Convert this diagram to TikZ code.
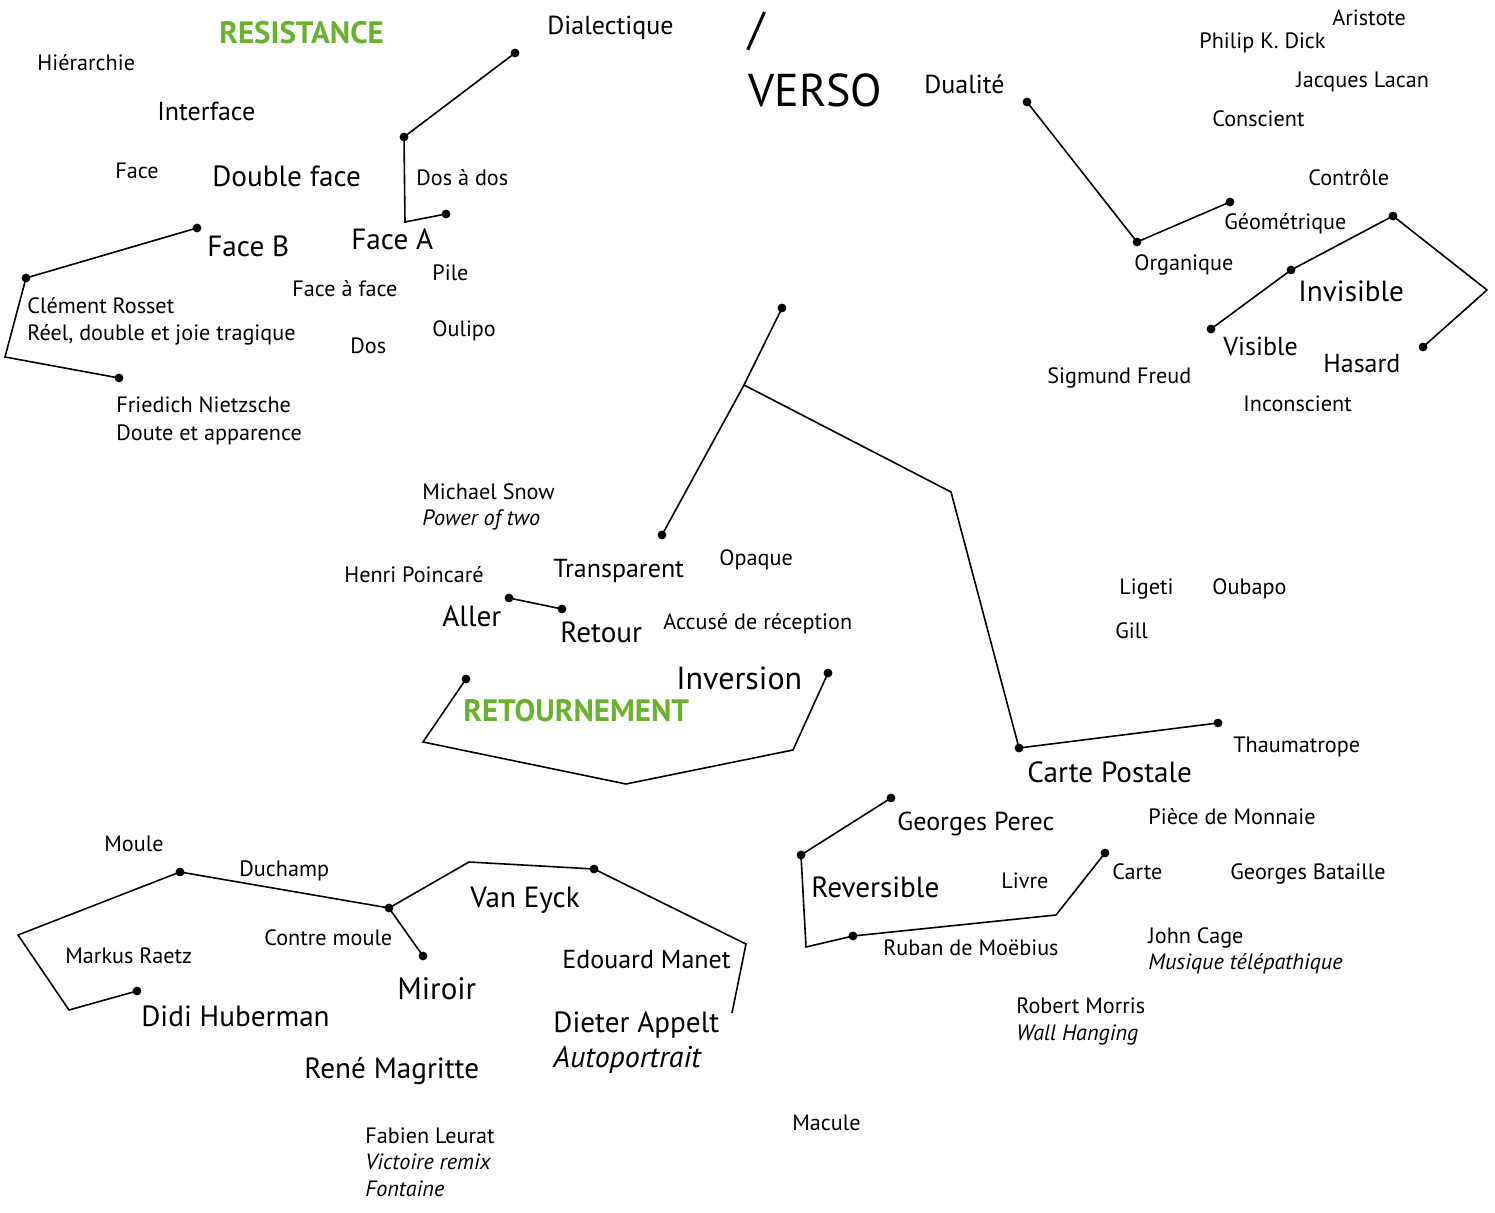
\documentclass[tikz,border=0pt]{standalone}
\usepackage{fontspec}
\setmainfont{PT Sans}
\definecolor{resgreen}{RGB}{106,178,46}

\tikzset{
  txt/.style={anchor=base west, inner sep=0pt, font=\fontsize{11.1}{13}\selectfont},
  work/.style={txt, font=\itshape\fontsize{11.1}{13}\selectfont},
  mid/.style={txt, font=\fontsize{13}{15}\selectfont},
  big/.style={txt, font=\fontsize{14.6}{17}\selectfont},
  bigwork/.style={txt, font=\itshape\fontsize{15}{18}\selectfont},
  huge/.style={txt, font=\fontsize{23}{27}\selectfont},
  theme/.style={txt, font=\bfseries\fontsize{15.5}{18}\selectfont, text=resgreen},
  link/.style={line width=0.8pt, line join=miter}
}

\begin{document}
\begin{tikzpicture}[x=0.5pt,y=-0.5pt]
\def\spotr{2.2pt}
\useasboundingbox (0,0) rectangle (1495,1213);

% Resistance
\node[theme] (resistance) at (219,44) {RESISTANCE};
\node[txt] (hierarchie) at (37,71) {Hiérarchie};
\node[mid] (interface) at (157,121) {Interface};
\node[txt] (face) at (115,179) {Face};
\node[big] (doubleface) at (212,187) {Double face};
\node[mid] (dialectique) at (547,35) {Dialectique};
\node[txt] (dosados) at (416,186) {Dos à dos};
\node[big] (faceb) at (207,257) {Face B};
\node[big] (facea) at (351,250) {Face A};
\node[txt] (pile) at (432,281) {Pile};
\node[txt] (faceaface) at (292,297) {Face à face};
\node[txt] (rosset) at (27,314) {Clément Rosset};
\node[txt] (rossetbook) at (27,341) {Réel, double et joie tragique};
\node[txt] (oulipo) at (432,337) {Oulipo};
\node[txt] (dos) at (350,354) {Dos};
\node[txt] (nietzsche) at (116,413) {Friedich Nietzsche};
\node[txt] (nietzschebook) at (116,441) {Doute et apparence};

% Verso
\node[huge] (slash) at (748,45) {/};
\node[huge] (verso) at (748,107) {VERSO};
\node[mid] (dualite) at (924,94) {Dualité};
\node[txt] (aristote) at (1332,26) {Aristote};
\node[txt] (dick) at (1199,49) {Philip K. Dick};
\node[txt] (lacan) at (1296,88) {Jacques Lacan};
\node[txt] (conscient) at (1212,127) {Conscient};
\node[txt] (controle) at (1308,186) {Contrôle};
\node[txt] (geometrique) at (1224,230) {Géométrique};
\node[txt] (organique) at (1134,271) {Organique};
\node[big] (invisible) at (1298,302) {Invisible};
\node[mid] (visible) at (1223,356) {Visible};
\node[mid] (hasard) at (1323,373) {Hasard};
\node[txt] (freud) at (1047,384) {Sigmund Freud};
\node[txt] (inconscient) at (1243,412) {Inconscient};

% Retournement
\node[txt] (snow) at (422,500) {Michael Snow};
\node[work] (snowwork) at (422,526) {Power of two};
\node[txt] (poincare) at (344,583) {Henri Poincaré};
\node[mid] (transparent) at (553,578) {Transparent};
\node[txt] (opaque) at (719,566) {Opaque};
\node[big] (aller) at (442,627) {Aller};
\node[big] (retour) at (560,643) {Retour};
\node[txt] (accuse) at (663,630) {Accusé de réception};
\node[big, font=\fontsize{16}{19}\selectfont] (inversion) at (676,690) {Inversion};
\node[theme] (retournement) at (463,722) {RETOURNEMENT};
\node[txt] (ligeti) at (1119,595) {Ligeti};
\node[txt] (oubapo) at (1212,595) {Oubapo};
\node[txt] (gill) at (1115,639) {Gill};
\node[txt] (thaumatrope) at (1233,753) {Thaumatrope};
\node[big] (cartepostale) at (1027,783) {Carte Postale};

% Reversible
\node[mid] (perec) at (897,831) {Georges Perec};
\node[txt] (piece) at (1148,825) {Pièce de Monnaie};
\node[txt] (carte) at (1112,879) {Carte};
\node[txt] (bataille) at (1230,879) {Georges Bataille};
\node[big] (reversible) at (811,897) {Reversible};
\node[txt] (livre) at (1001,888) {Livre};
\node[txt] (moebius) at (883,955) {Ruban de Moëbius};
\node[txt] (cage) at (1148,943) {John Cage};
\node[work] (cagework) at (1148,969) {Musique télépathique};
\node[txt] (morris) at (1016,1013) {Robert Morris};
\node[work] (morriswork) at (1016,1040) {Wall Hanging};
\node[txt] (macule) at (792,1130) {Macule};

% Miroir
\node[txt] (moule) at (104,851) {Moule};
\node[txt] (duchamp) at (239,877) {Duchamp};
\node[txt] (raetz) at (65,963) {Markus Raetz};
\node[txt] (contremoule) at (264,945) {Contre moule};
\node[big] (vaneyck) at (470,907) {Van Eyck};
\node[mid] (manet) at (562,968) {Edouard Manet};
\node[big, font=\fontsize{15.5}{18}\selectfont] (miroir) at (397,999) {Miroir};
\node[big] (huberman) at (141,1026) {Didi Huberman};
\node[big] (appelt) at (553,1032) {Dieter Appelt};
\node[bigwork] (appeltwork) at (553,1067) {Autoportrait};
\node[big] (magritte) at (304,1078) {René Magritte};
\node[txt] (leurat) at (365,1143) {Fabien Leurat};
\node[work] (leuratwork) at (365,1169) {Victoire remix};
\node[work] (leuratfont) at (365,1196) {Fontaine};

% Points of the lines
\foreach \n/\x/\y in {dA/515/53, dB/404/137, dC/405/222, dD/446/214,
    fA/197/228, fB/26/278, fC/5/357, fD/119/378,
    uA/1027/102, uB/1137/242, uC/1230/202,
    vA/1211/329, vB/1291/270, vC/1393/216, vD/1487/290, vE/1423/347,
    tA/782/308, tB/744/385, tC/662/535, tD/951/492, tE/1019/748, tF/1218/723,
    aA/509/598, aB/562/609,
    iA/466/679, iB/423/742, iC/626/784, iD/793/750, iE/828/673,
    rA/891/798, rB/801/855, rC/806/947, rD/853/936, rE/1056/915, rF/1105/853,
    mA/137/991, mB/69/1010, mC/18/935, mD/180/872, mE/389/908, mF/423/956,
    mG/469/862, mH/594/869, mI/746/944, mJ/732/1013}
  \coordinate (\n) at (\x,\y);

% Draw the lines
\draw[link] (dA) -- (dB) -- (dC) -- (dD);
\draw[link] (fA) -- (fB) -- (fC) -- (fD);
\draw[link] (uA) -- (uB) -- (uC);
\draw[link] (vA) -- (vB) -- (vC) -- (vD) -- (vE);
\draw[link] (tA) -- (tB) -- (tC);
\draw[link] (tB) -- (tD) -- (tE) -- (tF);
\draw[link] (aA) -- (aB);
\draw[link] (iA) -- (iB) -- (iC) -- (iD) -- (iE);
\draw[link] (rA) -- (rB) -- (rC) -- (rD) -- (rE) -- (rF);
\draw[link] (mA) -- (mB) -- (mC) -- (mD) -- (mE) -- (mF);
\draw[link] (mE) -- (mG) -- (mH) -- (mI) -- (mJ);

% Draw the dots
\foreach \n in {dA,dB,dD,fA,fB,fD,uA,uB,uC,vA,vB,vC,vE,tA,tC,tE,tF,
    aA,aB,iA,iE,rA,rB,rD,rF,mA,mD,mE,mF,mH}
  \fill (\n) circle (\spotr);

\end{tikzpicture}
\end{document}
